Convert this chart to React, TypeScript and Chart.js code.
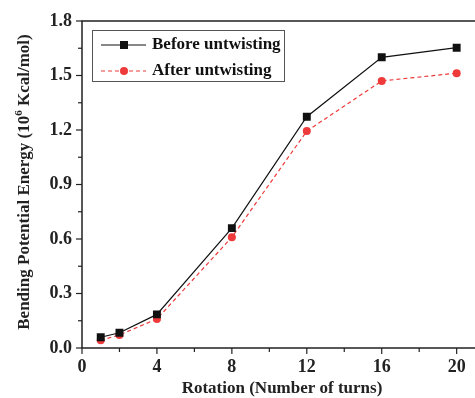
import React, { useEffect, useRef } from "react";
import { Chart, registerables } from "chart.js";

Chart.register(...registerables);

const turns = [1, 2, 4, 8, 12, 16, 20];
const beforeUntwisting = [0.059, 0.084, 0.185, 0.66, 1.273, 1.6, 1.653];
const afterUntwisting = [0.042, 0.072, 0.16, 0.61, 1.194, 1.47, 1.513];
const seriesLabels = ["Before untwisting", "After untwisting"];
const xTitle = "Rotation (Number of turns)";
const yTitleParts = ["Bending Potential Energy (10", "6", " Kcal/mol)"];

const FONT = "'Liberation Serif', 'Times New Roman', serif";
const RED = "#ee3a3a";

const decorPlugin = {
  id: "decor",
  afterDraw(chart: any) {
    const { ctx, chartArea: a, scales } = chart;
    const xs = scales.x;
    const ys = scales.y;
    ctx.save();
    // frame (top, left, bottom) running to the right edge
    ctx.strokeStyle = "#222";
    ctx.lineWidth = 1.5;
    ctx.beginPath();
    ctx.moveTo(chart.width, a.top);
    ctx.lineTo(a.left, a.top);
    ctx.lineTo(a.left, a.bottom);
    ctx.lineTo(chart.width, a.bottom);
    ctx.stroke();
    // x ticks
    ctx.lineWidth = 1.2;
    for (let v = 0; v <= 20; v += 2) {
      const px = xs.getPixelForValue(v);
      const len = v % 4 === 0 ? 6 : 4;
      ctx.beginPath();
      ctx.moveTo(px, a.bottom);
      ctx.lineTo(px, a.bottom + len);
      ctx.stroke();
    }
    for (let i = 0; i <= 12; i++) {
      const v = i * 0.15;
      const py = ys.getPixelForValue(v);
      const len = i % 2 === 0 ? 6 : 4;
      ctx.beginPath();
      ctx.moveTo(a.left, py);
      ctx.lineTo(a.left - len, py);
      ctx.stroke();
    }
    // titles
    ctx.fillStyle = "#222";
    ctx.font = `bold 17px ${FONT}`;
    ctx.textAlign = "center";
    ctx.textBaseline = "middle";
    ctx.fillText(xTitle, 282, 389);
    // y title with superscript
    ctx.save();
    ctx.translate(25, 182);
    ctx.rotate(-Math.PI / 2);
    const big = `bold 17px ${FONT}`;
    const small = `bold 11px ${FONT}`;
    ctx.font = big;
    const w1 = ctx.measureText(yTitleParts[0]).width;
    const w3 = ctx.measureText(yTitleParts[2]).width;
    ctx.font = small;
    const w2 = ctx.measureText(yTitleParts[1]).width;
    const total = w1 + w2 + w3;
    let x = -total / 2;
    ctx.textAlign = "left";
    ctx.font = big;
    ctx.fillText(yTitleParts[0], x, 0);
    x += w1;
    ctx.font = small;
    ctx.fillText(yTitleParts[1], x, -6);
    x += w2;
    ctx.font = big;
    ctx.fillText(yTitleParts[2], x, 0);
    ctx.restore();
    // legend
    ctx.strokeStyle = "#555";
    ctx.lineWidth = 1;
    ctx.strokeRect(92.5, 30.5, 192, 51);
    const rows = [
      { y: 45, color: "#111", dash: [], shape: "rect" },
      { y: 71, color: RED, dash: [4, 3], shape: "circle" },
    ];
    rows.forEach((r, i) => {
      ctx.strokeStyle = r.color;
      ctx.lineWidth = 1.2;
      ctx.setLineDash(r.dash);
      ctx.beginPath();
      ctx.moveTo(101, r.y);
      ctx.lineTo(146, r.y);
      ctx.stroke();
      ctx.setLineDash([]);
      ctx.fillStyle = r.color;
      if (r.shape === "rect") {
        ctx.fillRect(120, r.y - 4, 8, 8);
      } else {
        ctx.beginPath();
        ctx.arc(124, r.y, 4, 0, Math.PI * 2);
        ctx.fill();
      }
      ctx.fillStyle = "#111";
      ctx.font = `bold 17px ${FONT}`;
      ctx.textAlign = "left";
      ctx.textBaseline = "middle";
      ctx.fillText(seriesLabels[i], 152, r.y);
    });
    ctx.restore();
  },
};

export default function App() {
  const ref = useRef<HTMLCanvasElement>(null);
  useEffect(() => {
    document.body.style.margin = "0";
    const chart = new Chart(ref.current!, {
      type: "line",
      data: {
        datasets: [
          {
            label: seriesLabels[0],
            data: turns.map((t, i) => ({ x: t, y: beforeUntwisting[i] })),
            borderColor: "#111",
            backgroundColor: "#111",
            borderWidth: 1.2,
            pointStyle: "rect",
            pointRadius: 5.6,
            pointBorderWidth: 0,
          },
          {
            label: seriesLabels[1],
            data: turns.map((t, i) => ({ x: t, y: afterUntwisting[i] })),
            borderColor: RED,
            backgroundColor: RED,
            borderWidth: 1.2,
            borderDash: [4, 3],
            pointStyle: "circle",
            pointRadius: 4,
            pointBorderWidth: 0,
          },
        ],
      },
      options: {
        animation: false,
        responsive: false,
        maintainAspectRatio: false,
        layout: { padding: { top: 21, right: 0, left: 0, bottom: 0 } },
        plugins: { legend: { display: false }, tooltip: { enabled: false } },
        scales: {
          x: {
            type: "linear",
            min: 0,
            max: 20.68,
            border: { display: false },
            grid: { display: false, drawTicks: false },
            ticks: {
              stepSize: 4,
              includeBounds: false,
              padding: 9,
              color: "#222",
              font: { family: FONT, size: 18, weight: "bold" },
            },
            afterFit: (s: any) => {
              s.height = 50;
            },
          },
          y: {
            min: 0,
            max: 1.8,
            border: { display: false },
            grid: { display: false, drawTicks: false },
            ticks: {
              stepSize: 0.3,
              padding: 10,
              color: "#222",
              font: { family: FONT, size: 18, weight: "bold" },
              callback: (v: any) => Number(v).toFixed(1),
            },
            afterFit: (s: any) => {
              s.width = 82;
            },
          },
        },
      },
      plugins: [decorPlugin],
    });
    return () => chart.destroy();
  }, []);
  return (
    <div style={{ width: 475, height: 398, position: "relative" }}>
      <canvas ref={ref} width={475} height={398} style={{ width: 475, height: 398 }} />
    </div>
  );
}
